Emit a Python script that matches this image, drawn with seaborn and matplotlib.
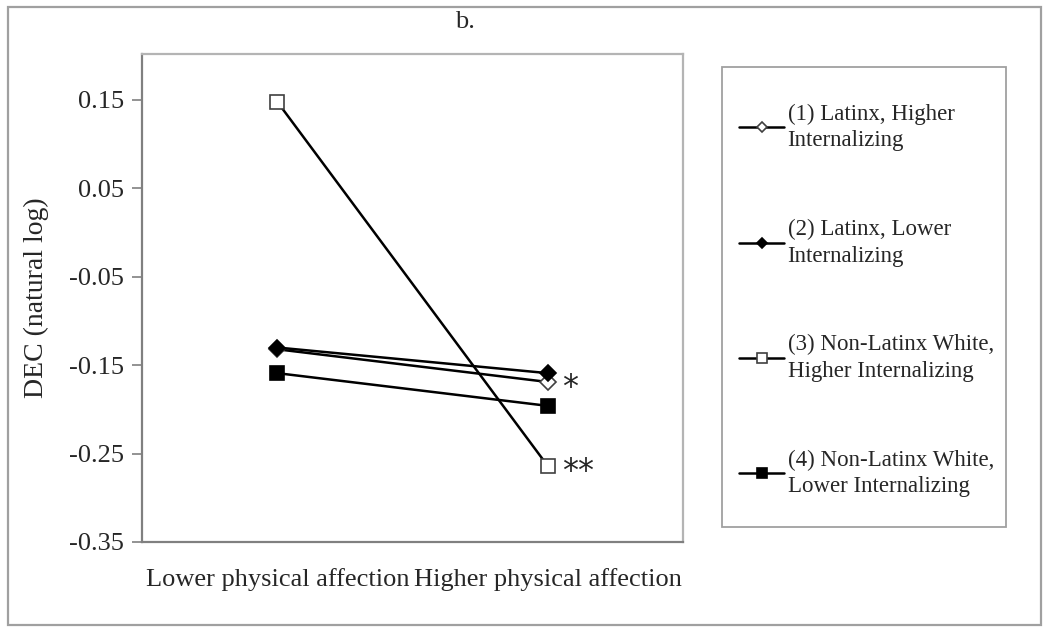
"""
Interaction plot: DEC (natural log) by physical affection, ethnicity x internalizing
"""

import numpy as np
import pandas as pd
import matplotlib.pyplot as plt
import matplotlib.patches as mpatches
import seaborn as sns

# data
conditions = ['Lower physical affection', 'Higher physical affection']
series_names = [
    '(1) Latinx, Higher\nInternalizing',
    '(2) Latinx, Lower\nInternalizing',
    '(3) Non-Latinx White,\nHigher Internalizing',
    '(4) Non-Latinx White,\nLower Internalizing',
]
latinx_high = [-0.132, -0.169]
latinx_low = [-0.130, -0.159]
white_high = [0.148, -0.264]
white_low = [-0.159, -0.196]
y_ticks = [0.15, 0.05, -0.05, -0.15, -0.25, -0.35]
stars = ['*', '', '**', '']

values = [latinx_high, latinx_low, white_high, white_low]
rows = []
for name, vals in zip(series_names, values):
    for i, v in enumerate(vals):
        rows.append({'series': name, 'pos': i, 'value': v})
df = pd.DataFrame(rows)

sns.set_style('white')
plt.rcParams['font.family'] = ['Liberation Serif', 'DejaVu Serif']

W, H = 1050, 634
fig = plt.figure(figsize=(W / 100, H / 100), dpi=100)
ax = fig.add_axes([142 / W, 1 - 542 / H, 541 / W, 488 / H])

# marker style per series: (marker, face)
marker_styles = [('D', 'white'), ('D', 'black'), ('s', 'white'), ('s', 'black')]
marker_sizes = [8, 8, 10, 10]

for name, (mk, face), ms in zip(series_names, marker_styles, marker_sizes):
    sub = df[df['series'] == name]
    sns.lineplot(data=sub, x='pos', y='value', ax=ax, color='black', lw=1.8,
                 marker=mk, markersize=ms, markerfacecolor=face,
                 markeredgecolor='black' if face == 'black' else '#404040',
                 markeredgewidth=1.2, label=name, legend=False)

# significance stars next to the right-hand points
for name, star in zip(series_names, stars):
    if star:
        v = df[(df['series'] == name) & (df['pos'] == 1)]['value'].iloc[0]
        ax.annotate(star, xy=(1, v), xytext=(10, -4), textcoords='offset points',
                    fontsize=23, va='center', ha='left', family='DejaVu Sans')

ax.set_xlim(-0.5, 1.5)
ax.set_ylim(-0.35, 0.202)
ax.set_xticks([0, 1])
ax.set_xticklabels(conditions, fontsize=19)
ax.set_yticks(y_ticks)
ax.set_yticklabels([f'{t:.2f}' for t in y_ticks], fontsize=19)
ax.set_xlabel('')
ax.set_ylabel('DEC (natural log)', fontsize=20, labelpad=14)
ax.tick_params(axis='y', which='both', left=True, length=7, width=1.2,
               color='#808080', pad=6)
ax.tick_params(axis='x', which='both', bottom=False, pad=15)

for side in ['left', 'bottom']:
    ax.spines[side].set_color('#808080')
    ax.spines[side].set_linewidth(1.6)
for side in ['top', 'right']:
    ax.spines[side].set_color('#b4b4b4')
    ax.spines[side].set_linewidth(1.6)

fig.text(465 / W, 1 - 22 / H, 'b.', fontsize=19, ha='center', va='center')

# legend, in its own box to the right
handles, labels = ax.get_legend_handles_labels()
leg = fig.legend(handles, labels, loc='upper left',
                 bbox_to_anchor=(728 / W, 1 - 92 / H), frameon=False,
                 fontsize=16.5, markerscale=0.65, handlelength=1.95,
                 handletextpad=0.15, labelspacing=2.95, borderpad=0)
for t in leg.get_texts():
    t.set_linespacing(1.35)
fig.add_artist(mpatches.Rectangle((722 / W, 1 - 527 / H), 284 / W, 460 / H,
                                  transform=fig.transFigure, fill=False,
                                  edgecolor='#a0a0a0', lw=1.3))
# outer chart border
fig.add_artist(mpatches.Rectangle((8 / W, 1 - 625 / H), 1033 / W, 618 / H,
                                  transform=fig.transFigure, fill=False,
                                  edgecolor='#a0a0a0', lw=1.6))

fig.savefig('out.png', dpi=100)
